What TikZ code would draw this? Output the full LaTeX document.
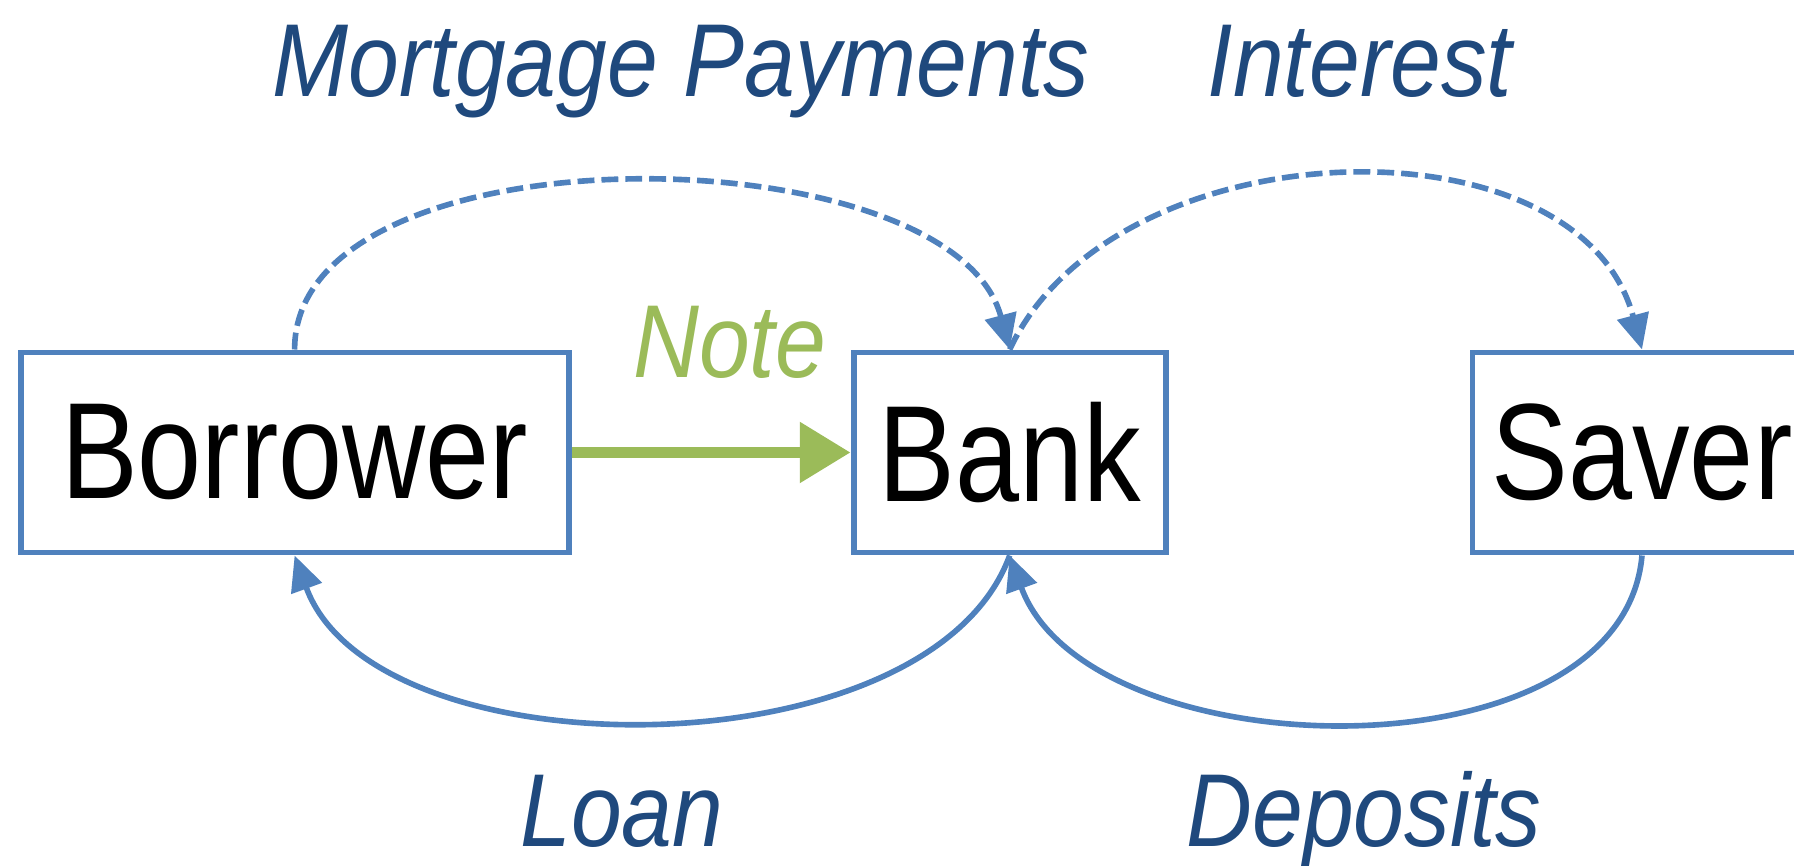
\documentclass[tikz,border=0pt]{standalone}
\usepackage{fontspec}
\setmainfont{Liberation Sans}
\newfontfamily\narrowfont[FakeStretch=0.84]{Liberation Sans}
\newfontfamily\flowfont[FakeStretch=0.88]{Liberation Sans}
\usetikzlibrary{arrows.meta}

\definecolor{boxblue}{HTML}{4F81BD}
\definecolor{notegreen}{HTML}{9BBB59}
\definecolor{labelblue}{HTML}{1F497D}

\begin{document}
\begin{tikzpicture}
\tikzstyle{every node}=[font=\narrowfont]
\tikzstyle{party}=[draw=boxblue, line width=1.7pt, minimum height=2cm, inner sep=0pt,
  font=\narrowfont\fontsize{39}{39}\selectfont]
\tikzstyle{flow}=[font=\flowfont\itshape\fontsize{29.5}{29.5}\selectfont, text=labelblue, anchor=base]
\tikzstyle{cash}=[draw=boxblue, line width=1.6pt, -{Triangle[length=10pt,width=9pt]}]
\tikzstyle{promise}=[cash, dash pattern=on 4.8pt off 2pt]

\useasboundingbox (0,0) rectangle (17.94,8.66);
\clip (0,0) rectangle (17.94,8.66);

% the three parties
\node[party, minimum width=5.48cm] (borrower) at (2.946,4.135) {Borrower};
\node[party, minimum width=3.12cm] (bank) at (10.097,4.135) {Bank};
\node[party, minimum width=3.39cm] (saver) at (16.42,4.135) {Saver};

% note goes from borrower to bank
\draw[draw=notegreen, line width=3.4pt, -{Triangle[length=14.5pt,width=16.5pt]}] (borrower) -- (bank);
\node[flow, text=notegreen] (note) at (7.295,4.885) {Note};

% payments on top, dashed
\draw[promise] (borrower.north) to[out=90, in=105, looseness=0.81] (bank.north);
\draw[promise] (bank.north) to[out=65, in=105, looseness=1.0] (saver.north);
\node[flow] (payments) at (6.81,7.69) {Mortgage Payments};
\node[flow] (interest) at (13.60,7.69) {Interest};

% money below
\draw[cash] (bank.south) to[out=250, in=290, looseness=0.84] (borrower.south);
\draw[cash] (saver.south) to[out=265, in=290, looseness=0.93] (bank.south);
\node[flow] (loan) at (6.22,0.19) {Loan};
\node[flow] (deposits) at (13.64,0.19) {Deposits};

\end{tikzpicture}
\end{document}
